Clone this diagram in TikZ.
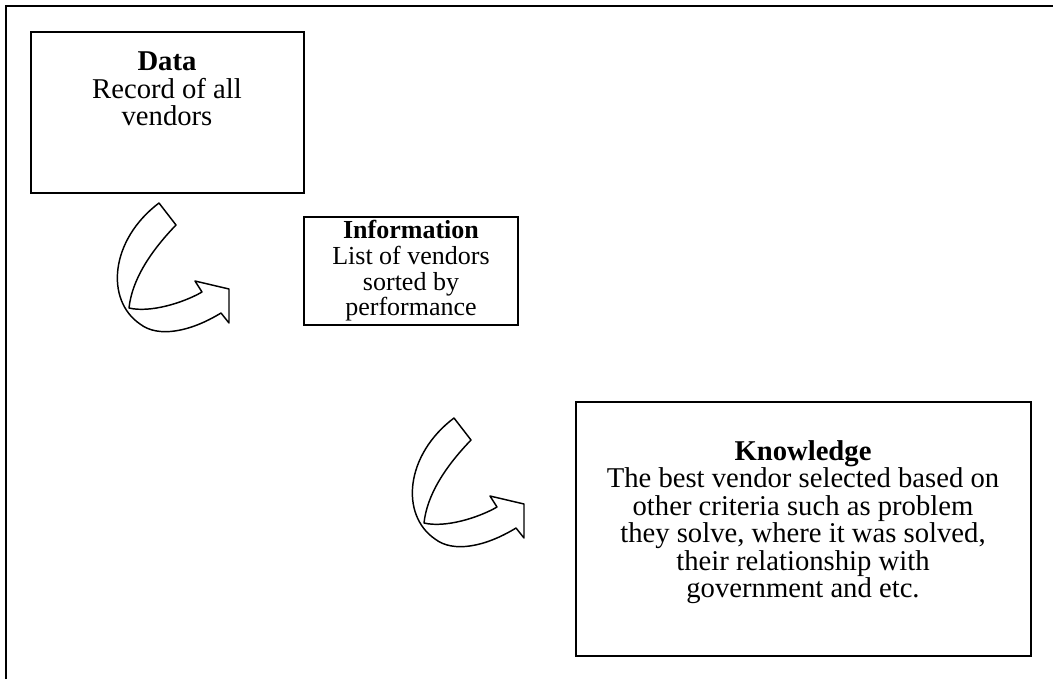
\documentclass[tikz,border=0pt]{standalone}
\usepackage{fontspec}
\setmainfont{Liberation Serif}
\usetikzlibrary{positioning}

\begin{document}
\begin{tikzpicture}[x=0.75pt, y=-0.75pt,
    box/.style={draw, line width=1.2pt, rectangle, inner sep=0pt},
    txt/.style={align=center, inner sep=0pt, font=\fontsize{21.5}{20.6}\selectfont},
    pics/twistarrow/.style={code={
        \draw[line width=1.1pt, fill=white, line join=round]
          (0,0) -- (17,22)
          .. controls (-9,49) and (-27,77) .. (-30,105)
          .. controls (-9,110) and (24,100) .. (43,89)
          -- (36,78) -- (70,86) -- (70,120) -- (62,110)
          .. controls (31,129) and (-1,135) .. (-19,121)
          .. controls (-54,97) and (-49,37) .. (0,0) -- cycle;
    }}]
  \useasboundingbox (0,0) rectangle (1053,679);

  % outer frame (only left and top edges are visible)
  \draw[line width=1.4pt] (6,679) -- (6,6) -- (1053,6);

  % boxes
  \node[box, minimum width=204.75pt, minimum height=120.75pt] (data) at (167.5,112.5) {};
  \node[box, minimum width=160.5pt, minimum height=81pt] (info) at (411,271) {};
  \node[box, minimum width=341.25pt, minimum height=190.5pt] (know) at (803.5,529) {};

  % texts
  \node[txt] (datatext) at (167,89) {\textbf{Data}\\Record of all\\vendors};
  \node[txt, font=\fontsize{19.5}{19.2}\selectfont] (infotext) at (411,271) {\textbf{Information}\\List of vendors\\sorted by\\performance};
  \node[txt] (knowtext) at (803,522) {\textbf{Knowledge}\\The best vendor selected based on\\other criteria such as problem\\they solve, where it was solved,\\their relationship with\\government and etc.};

  % curved arrows
  \pic at (159,203) {twistarrow};
  \pic at (454,418) {twistarrow};
\end{tikzpicture}
\end{document}
